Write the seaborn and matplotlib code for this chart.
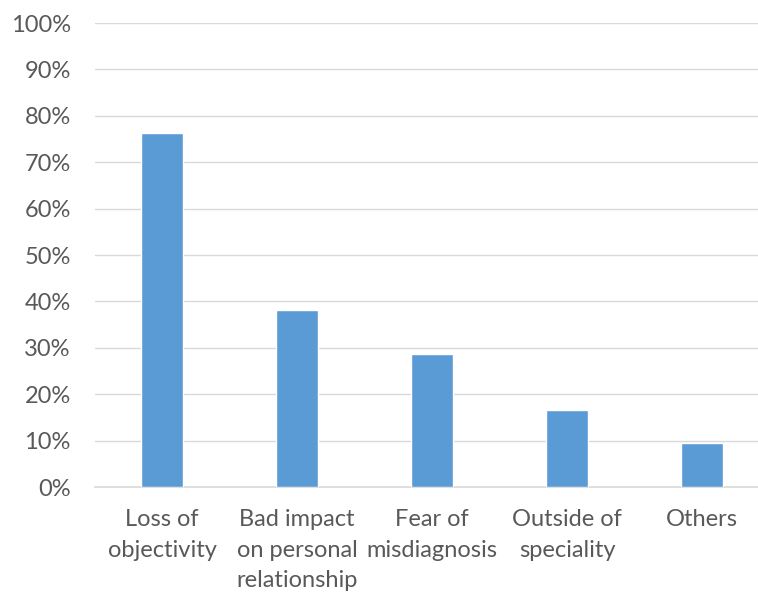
import matplotlib
matplotlib.use("Agg")
import matplotlib.pyplot as plt
import seaborn as sns
import pandas as pd
from matplotlib.ticker import PercentFormatter

categories = ["Loss of\nobjectivity", "Bad impact\non personal\nrelationship",
              "Fear of\nmisdiagnosis", "Outside of\nspeciality", "Others"]
values = [76.3, 38.2, 28.6, 16.5, 9.5]
yticks = [0, 10, 20, 30, 40, 50, 60, 70, 80, 90, 100]

sns.set_theme(style="white")
plt.rcParams['font.family'] = ['Lato', 'DejaVu Sans']

df = pd.DataFrame({"cat": categories, "val": values})

fig = plt.figure(figsize=(7.58, 5.95), dpi=100)
ax = fig.add_axes([94.5/758, 1-487/595, 675/758, (487-23)/595])
sns.barplot(data=df, x="cat", y="val", color="#5B9BD5", width=0.31,
            saturation=1, ax=ax, zorder=3)

ax.set_ylim(0, 100)
ax.set_yticks(yticks)
ax.yaxis.set_major_formatter(PercentFormatter(decimals=0))
ax.grid(axis="y", color="#D9D9D9", linewidth=1, zorder=0)
ax.set_axisbelow(True)
for s in ["top", "right", "left"]:
    ax.spines[s].set_visible(False)
ax.spines["bottom"].set_color("#D9D9D9")
ax.spines["bottom"].set_linewidth(1.2)
ax.set_xlabel("")
ax.set_ylabel("")
ax.tick_params(axis="y", length=0, pad=17, labelsize=17, labelcolor="#595959")
ax.tick_params(axis="x", length=0, pad=16, labelsize=17, labelcolor="#595959")
for lab in ax.get_xticklabels():
    lab.set_linespacing(1.55)

fig.savefig("out.png", dpi=100)
